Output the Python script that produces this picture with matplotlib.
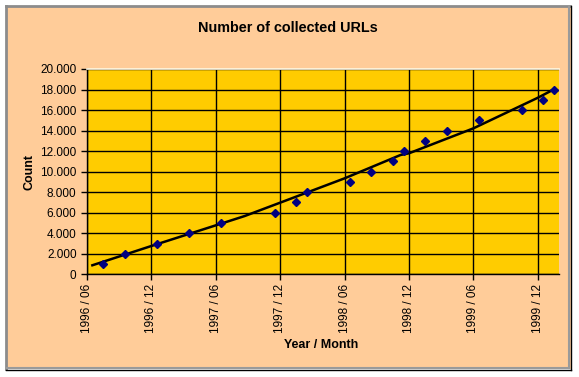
import matplotlib
matplotlib.use("Agg")
import matplotlib.pyplot as plt
from matplotlib.patches import Rectangle
from matplotlib.lines import Line2D
from matplotlib.ticker import FuncFormatter

# months since 1996/06 (mid-month collection dates)
months = [1.5, 3.5, 6.5, 9.5, 12.5, 17.5, 19.5, 20.5, 24.5, 26.5,
          28.5, 29.5, 31.5, 33.5, 36.5, 40.5, 42.5, 43.5]
counts = [1000, 2000, 3000, 4000, 5000, 6000, 7000, 8000, 9000, 10000,
          11000, 12000, 13000, 14000, 15000, 16000, 17000, 18000]

# trend curve
trend_months = [0.5, 6, 12, 14.7, 18, 24, 29.2, 30, 36, 42, 43.5]
trend_counts = [880, 2760, 4770, 5680, 6980, 9350, 11620, 11790, 14220, 17200, 18020]

tick_months = [0, 6, 12, 18, 24, 30, 36, 42]
tick_labels = ["1996 / 06", "1996 / 12", "1997 / 06", "1997 / 12",
               "1998 / 06", "1998 / 12", "1999 / 06", "1999 / 12"]

plt.rcParams['font.family'] = ['Liberation Sans', 'DejaVu Sans']

W, H = 579, 377
fig = plt.figure(figsize=(W / 100, H / 100), dpi=100)
fig.patch.set_facecolor('white')

# chart area frame (peach box with 3D-ish border)
def fx(px):
    return px / W

def fy(py):
    return 1 - py / H

fig.patches.append(Rectangle((fx(6), fy(369)), fx(565), 363 / H, transform=fig.transFigure,
                             facecolor='#FFCC99', edgecolor='none', zorder=-10))
for (x0, y0, x1, y1, c, lw) in [
    (6, 6, 570, 6, '#8C8C8C', 2.0),
    (6, 6, 6, 369, '#8C8C8C', 2.0),
    (569, 7, 569, 368, '#9A9A9A', 1.5),
    (7, 368, 569, 368, '#9A9A9A', 1.5),
    (571, 6, 571, 370, '#000000', 1.0),
    (6, 370, 571, 370, '#000000', 1.0),
]:
    fig.lines.append(Line2D([fx(x0), fx(x1)], [fy(y0), fy(y1)], transform=fig.transFigure,
                            color=c, lw=lw, zorder=-5))

ax = fig.add_axes([fx(87), fy(274.3), fx(559.3 - 87), (274.3 - 69) / H])
ax.set_facecolor('#FFCC00')

ax.plot(trend_months, trend_counts, color='black', lw=1.8, zorder=3)
ax.plot(months, counts, linestyle='none', marker='D', markersize=4.5,
        color='#000080', zorder=4)

ax.set_xlim(0, 44)
ax.set_ylim(0, 20000)
ax.set_xticks(tick_months)
ax.set_xticklabels(tick_labels, rotation=90, fontsize=8.5)
ax.set_yticks(range(0, 20001, 2000))
ax.yaxis.set_major_formatter(FuncFormatter(lambda v, p: f"{int(v):,}".replace(",", ".")))
ax.tick_params(axis='y', labelsize=8.5, length=4, width=1, color='black', pad=3.5)
ax.tick_params(axis='x', length=4, width=1, color='black', pad=3)
ax.grid(True, color='black', lw=1)
ax.set_axisbelow(True)

ax.spines['right'].set_visible(False)
ax.spines['top'].set_color('#FFF8E0')
ax.spines['top'].set_linewidth(1.2)
ax.spines['left'].set_linewidth(1)
ax.spines['bottom'].set_linewidth(1)

fig.text(fx(288), fy(28), "Number of collected URLs", ha='center', va='center',
         fontsize=10.4, fontweight='bold')
fig.text(fx(30), fy(172), "Count", ha='center', va='center', rotation=90,
         fontsize=9, fontweight='bold')
fig.text(fx(321), fy(345), "Year / Month", ha='center', va='center',
         fontsize=9, fontweight='bold')

fig.savefig('out.png', dpi=100, facecolor=fig.get_facecolor())
